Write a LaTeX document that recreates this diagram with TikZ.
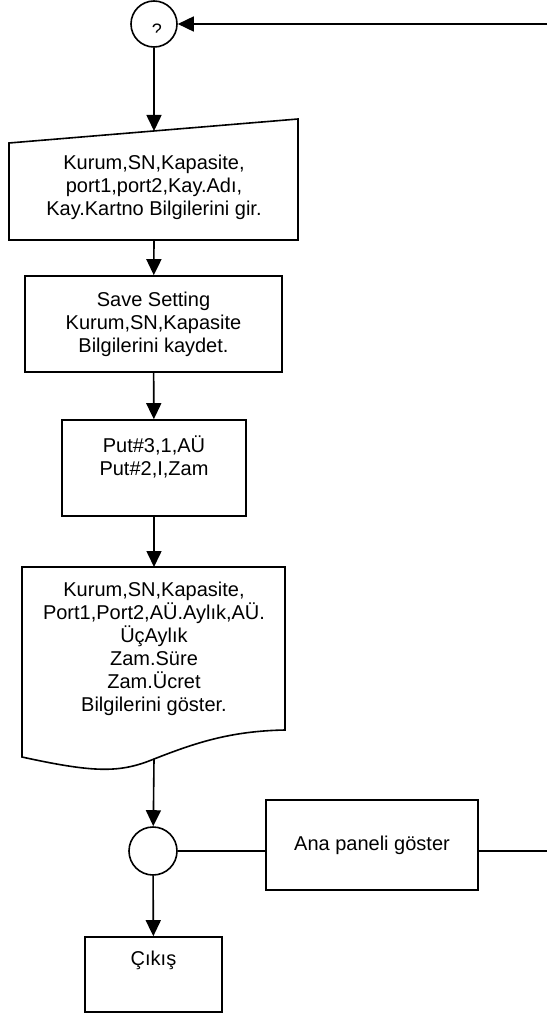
\documentclass[tikz,border=0pt]{standalone}
\usepackage{fontspec}
\setmainfont{Liberation Sans}
\usetikzlibrary{arrows.meta}
\begin{document}
\begin{tikzpicture}[x=1pt,y=-1pt,
  line width=1.6pt,
  flow/.style={-{Triangle[length=16pt,width=15pt]}},
  txt/.style={font=\fontsize{20}{23}\selectfont, align=center, inner sep=0pt},
  procbox/.style={draw, rectangle, inner sep=0pt, font=\fontsize{20}{23}\selectfont, align=center},
  conn/.style={draw, circle, inner sep=0pt, fill=white}
]
\useasboundingbox (0,0) rectangle (547,1014);

% connector circles
\node[conn, minimum size=46pt] (c1) at (154,24) {};
\node[conn, minimum size=48pt] (c2) at (153,851) {};
\begin{scope}
  \clip (130,18) rectangle (178,33.5);
  \node[txt, font=\fontsize{18}{20}\selectfont, anchor=north] (q) at (157,23) {?};
\end{scope}

% manual input
\coordinate (mitl) at (9,143);
\coordinate (mitr) at (298,119);
\coordinate (mibr) at (298,240);
\coordinate (mibl) at (9,240);
\coordinate (mitop) at (154,131);
\coordinate (mibot) at (154,240);
\draw (mitl) -- (mitr) -- (mibr) -- (mibl) -- cycle;
\node[txt] (mitext) at (154,187) {Kurum,SN,Kapasite,\\port1,port2,Kay.Adı,\\Kay.Kartno Bilgilerini gir.};

% process boxes
\node[procbox, minimum width=257pt, minimum height=96pt] (save) at (153.5,324)
  {Save Setting\\Kurum,SN,Kapasite\\Bilgilerini kaydet.};
\node[procbox, minimum width=184pt, minimum height=96pt] (put) at (154,468) {};
\node[txt] (puttext) at (154,457) {Put\#3,1,AÜ\\Put\#2,I,Zam};

% document
\coordinate (doctop) at (154,567);
\coordinate (docbot) at (154,759);
\draw (22,567) -- (285,567) -- (285,730)
  .. controls (230,731) and (195,743) .. (docbot)
  .. controls (120,773) and (95,773) .. (22,757) -- cycle;
\node[txt] (doctext) at (154,649)
  {Kurum,SN,Kapasite,\\Port1,Port2,AÜ.Aylık,AÜ.\\ÜçAylık\\Zam.Süre\\Zam.Ücret\\Bilgilerini göster.};

\node[procbox, minimum width=212pt, minimum height=90pt] (ana) at (372,845) {Ana paneli göster};
\node[procbox, minimum width=137pt, minimum height=75pt] (cikis) at (153.5,974.5) {};
\node[txt] (cikistext) at (153.5,960) {Çıkış};

% connectors
\coordinate (ret) at (547,24);
\coordinate (exit) at (547,851);
\draw[flow] (ret) -- (c1);
\draw[flow] (c1) -- (mitop);
\draw[flow] (mibot) -- (save);
\draw[flow] (save) -- (put);
\draw[flow] (put) -- (doctop);
\draw[flow] (docbot) -- (c2);
\draw[flow] (c2) -- (cikis);
\draw (c2.east) -- (c2.east -| ana.west);
\draw (ana.east |- exit) -- (exit);
\end{tikzpicture}
\end{document}
